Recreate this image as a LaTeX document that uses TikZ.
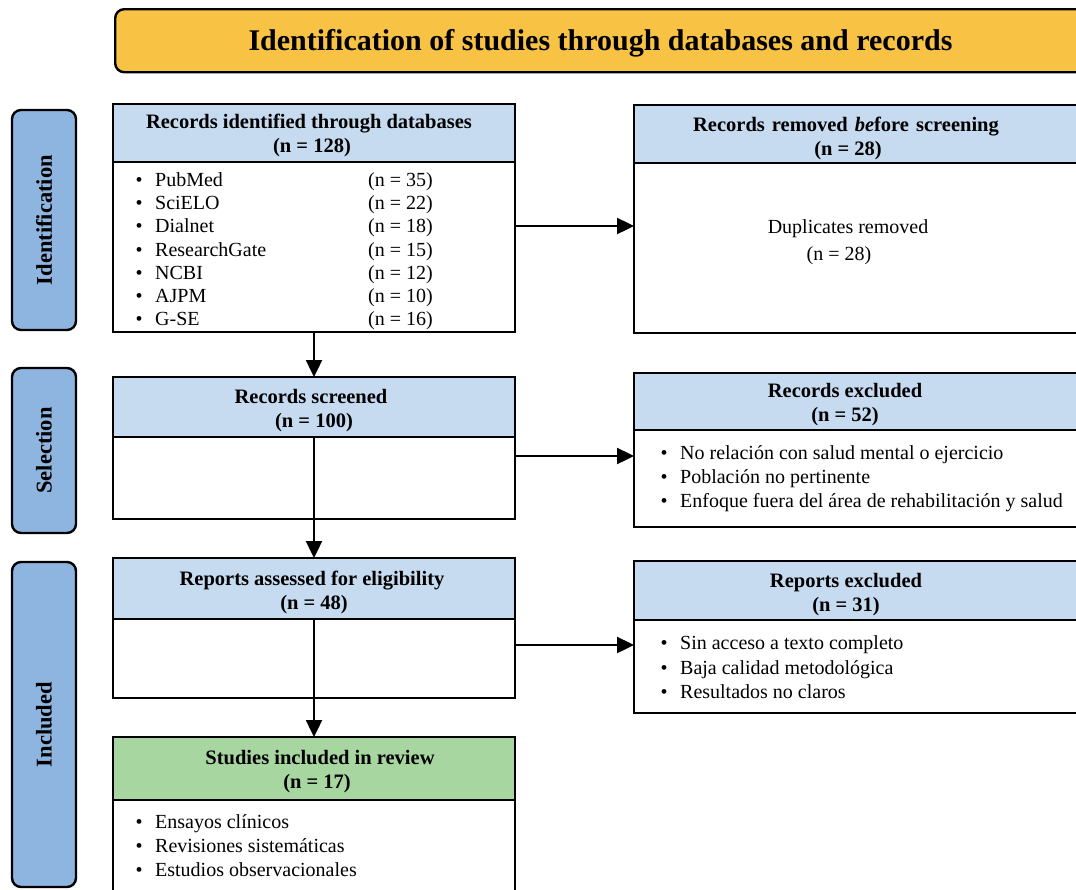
\documentclass[tikz,border=0pt]{standalone}
\usepackage{fontspec}
\setmainfont{Liberation Serif}
\usetikzlibrary{arrows.meta}
\definecolor{titleor}{HTML}{F8C244}
\definecolor{hdrblue}{HTML}{C6DAF0}
\definecolor{sideblue}{HTML}{8EB4E0}
\definecolor{hdrgreen}{HTML}{A8D6A0}
\tikzset{
  boxbody/.style={draw, fill=white, line width=2.4pt, anchor=north west, inner sep=0pt, outer sep=0pt},
  boxhead/.style={draw, line width=2.4pt, anchor=north west, inner sep=0pt, outer sep=0pt, fill=hdrblue},
  sidelab/.style={draw, fill=sideblue, line width=2.4pt, rounded corners=9pt, anchor=north west, inner sep=0pt, outer sep=0pt},
  hdrtxt/.style={anchor=base, inner sep=0pt, font=\bfseries\fontsize{20.5}{24}\selectfont},
  bodytxt/.style={anchor=base, inner sep=0pt, font=\fontsize{20}{24}\selectfont},
  listtxt/.style={anchor=base west, inner sep=0pt},
  sidetxt/.style={rotate=90, inner sep=0pt, font=\bfseries\fontsize{22.5}{26}\selectfont},
  arr/.style={line width=2.4pt, -{Triangle[length=17pt,width=16pt]}},
}
\begin{document}
\begin{tikzpicture}[x=1pt,y=-1pt]
\clip (0,0) rectangle (1076,889);
\fill[white] (0,0) rectangle (1076,889);

% title bar
\node[draw, fill=titleor, line width=2.4pt, rounded corners=9pt, minimum width=990pt, minimum height=63pt, anchor=north west, inner sep=0pt] (title) at (114,8) {};
\node[font=\bfseries\fontsize{30}{36}\selectfont, inner sep=0pt, anchor=base] (titletxt) at (600.5,50) {Identification of studies through databases and records};

% side labels
\node[sidelab, minimum width=64pt, minimum height=220pt] (sid) at (12,110) {};
\node[sidetxt] (sidt) at (sid.center) {Identification};
\node[sidelab, minimum width=64pt, minimum height=165pt] (ssel) at (12,368) {};
\node[sidetxt] (sselt) at (ssel.center) {Selection};
\node[sidelab, minimum width=64pt, minimum height=325pt] (sinc) at (12,562) {};
\node[sidetxt] (sinct) at (sinc.center) {Included};

% left column boxes
\node[boxbody, minimum width=402pt, minimum height=228pt] (b1) at (113,104) {};
\node[boxhead, minimum width=402pt, minimum height=58pt] (b1h) at (113,104) {};
\node[hdrtxt] (b1t1) at (309,128) {Records identified through databases};
\node[hdrtxt] (b1t2) at (312,152) {(n = 128)};
\node[listtxt, font=\fontsize{20}{23.2}\selectfont] (b1l) at (135.5,186.5) {\begin{tabular}[t]{@{}p{19.5pt}@{}p{213pt}@{}l@{}}
\textbullet & PubMed & (n = 35)\\
\textbullet & SciELO & (n = 22)\\
\textbullet & Dialnet & (n = 18)\\
\textbullet & ResearchGate & (n = 15)\\
\textbullet & NCBI & (n = 12)\\
\textbullet & AJPM & (n = 10)\\
\textbullet & G-SE & (n = 16)
\end{tabular}};

\node[boxbody, minimum width=402pt, minimum height=142pt] (b2) at (113,377) {};
\node[boxhead, minimum width=402pt, minimum height=60pt] (b2h) at (113,377) {};
\node[hdrtxt] (b2t1) at (311,403) {Records screened};
\node[hdrtxt] (b2t2) at (314,427) {(n = 100)};

\node[boxbody, minimum width=402pt, minimum height=140pt] (b3) at (113,558) {};
\node[boxhead, minimum width=402pt, minimum height=61pt] (b3h) at (113,558) {};
\node[hdrtxt] (b3t1) at (312,585) {Reports assessed for eligibility};
\node[hdrtxt] (b3t2) at (314,609) {(n = 48)};

\node[boxbody, minimum width=402pt, minimum height=170pt] (b4) at (113,737) {};
\node[boxhead, fill=hdrgreen, minimum width=402pt, minimum height=63pt] (b4h) at (113,737) {};
\node[hdrtxt] (b4t1) at (320,764) {Studies included in review};
\node[hdrtxt] (b4t2) at (317,788) {(n = 17)};
\node[listtxt, font=\fontsize{20}{24}\selectfont] (b4l) at (135.5,828.5) {\begin{tabular}[t]{@{}p{19.5pt}@{}l@{}}
\textbullet & Ensayos clínicos\\
\textbullet & Revisiones sistemáticas\\
\textbullet & Estudios observacionales
\end{tabular}};

% right column boxes
\node[boxbody, minimum width=470pt, minimum height=228pt] (r1) at (634,105) {};
\node[boxhead, minimum width=470pt, minimum height=58pt] (r1h) at (634,105) {};
\node[hdrtxt] (r1t1) at (846,131) {\spaceskip=7pt plus 1pt\relax Records removed \textit{be}fore screening};
\node[hdrtxt] (r1t2) at (848,155) {(n = 28)};
\node[bodytxt] (r1b1) at (848,233.5) {Duplicates removed};
\node[bodytxt] (r1b2) at (839,260.5) {(n = 28)};

\node[boxbody, minimum width=470pt, minimum height=154pt] (r2) at (634,373) {};
\node[boxhead, minimum width=470pt, minimum height=57pt] (r2h) at (634,373) {};
\node[hdrtxt] (r2t1) at (845,397) {Records excluded};
\node[hdrtxt] (r2t2) at (845,421) {(n = 52)};
\node[listtxt, font=\fontsize{20}{24}\selectfont] (r2l) at (660.5,459.5) {\begin{tabular}[t]{@{}p{19.5pt}@{}l@{}}
\textbullet & No relación con salud mental o ejercicio\\
\textbullet & Población no pertinente\\
\textbullet & Enfoque fuera del área de rehabilitación y salud
\end{tabular}};

\node[boxbody, minimum width=470pt, minimum height=152pt] (r3) at (634,561) {};
\node[boxhead, minimum width=470pt, minimum height=59pt] (r3h) at (634,561) {};
\node[hdrtxt] (r3t1) at (846,587) {Reports excluded};
\node[hdrtxt] (r3t2) at (846,611) {(n = 31)};
\node[listtxt, font=\fontsize{20}{24.5}\selectfont] (r3l) at (660.5,649.5) {\begin{tabular}[t]{@{}p{19.5pt}@{}l@{}}
\textbullet & Sin acceso a texto completo\\
\textbullet & Baja calidad metodológica\\
\textbullet & Resultados no claros
\end{tabular}};

% connectors
\draw[arr] (b1.south) -- (b2.north);
\draw[arr] (b2h.south) -- (b3.north);
\draw[arr] (b3h.south) -- (b4.north);
\draw[arr] ([yshift=-8pt]b1.east) -- ([yshift=-8pt]b1.east -| r1.west);
\draw[arr] ([yshift=-8pt]b2.east) -- ([yshift=-8pt]b2.east -| r2.west);
\draw[arr] ([yshift=-17pt]b3.east) -- ([yshift=-17pt]b3.east -| r3.west);
\end{tikzpicture}
\end{document}
